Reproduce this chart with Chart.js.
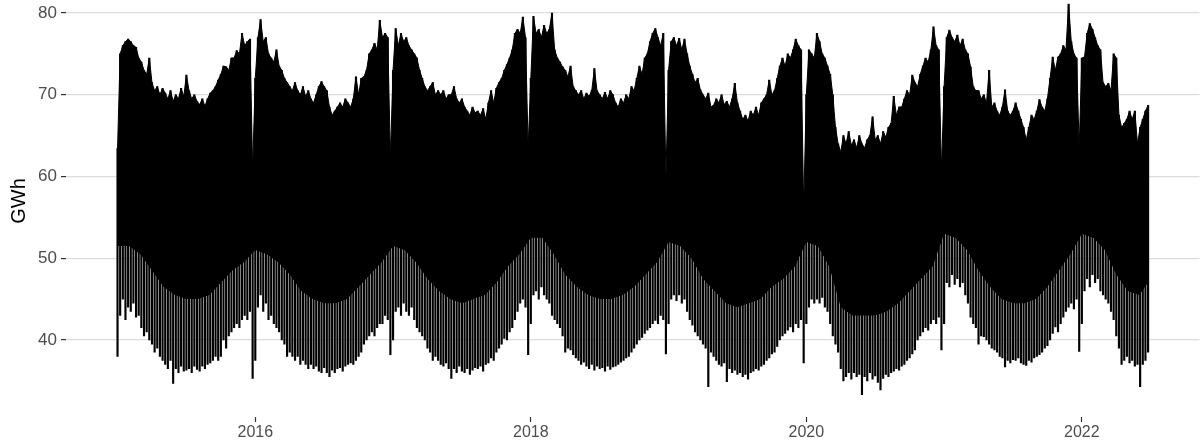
<!DOCTYPE html>
<html>
<head>
<meta charset="utf-8">
<script src="https://cdn.jsdelivr.net/npm/chart.js@4.4.1/dist/chart.umd.min.js"></script>
<style>
    html, body { margin: 0; padding: 0; background: #ffffff; }
    #contenedor { width: 1203px; height: 445px; }
</style>
</head>
<body>
<div id="contenedor"><canvas id="demandChart" width="1203" height="445"></canvas></div>
<script>
// Años de la serie (52 semanas por año, 2022 llega hasta finales de junio)
var years = [2015, 2016, 2017, 2018, 2019, 2020, 2021, 2022];

// Máximo semanal (GWh)
var high2015 = [63.4, 75, 76, 76.5, 76.8, 76.5, 76, 75.8, 74.5, 74, 73, 72.5, 74.5, 71.5, 70.5, 71, 70, 70.8, 70.2, 69.5, 70.5, 69.2, 70, 69.5, 70.8, 69.8, 72.4, 70.5, 69.5, 70, 69.2, 68.8, 69.5, 68.6, 69.5, 70.2, 70.5, 71, 71.8, 72.5, 73.5, 73.4, 73, 74.5, 74.5, 75.4, 75, 77.5, 76, 76.5, 76.8, 61];
var high2016 = [72, 77, 79.2, 76.5, 77, 75, 74.5, 74, 75.5, 73.5, 73, 72, 71.5, 71, 70.5, 71.5, 70.5, 70, 71, 69.8, 70.5, 69.5, 69, 70, 71, 71.6, 71, 70.5, 68.5, 67.5, 68, 68.5, 69, 68.5, 69.5, 69, 68.5, 69.5, 72.2, 70, 72, 72.2, 73, 75, 75.5, 76.3, 75.5, 79.1, 77, 77.5, 77, 62.4];
var high2017 = [73, 78.1, 76, 77.5, 76.5, 77, 76, 75.5, 75, 74.5, 73, 72, 71, 70.5, 71, 71.5, 70, 70.5, 70, 70.5, 69.5, 70, 70, 71, 69.5, 69, 69.5, 68.5, 68, 67.5, 68.5, 67.8, 68, 67.5, 68.3, 67, 69, 70.5, 69, 70.8, 71.5, 72, 73, 73.7, 74.5, 75.5, 77.5, 78, 77.5, 79.5, 77, 63.6];
var high2018 = [72, 79.6, 77.5, 78, 77, 78.5, 77.5, 78, 80, 75.5, 74.5, 74, 73.4, 73, 72.2, 73.5, 71, 70.5, 70, 70.5, 69.5, 70.2, 69.8, 70.5, 73.2, 70.5, 70, 69.5, 70.3, 69.5, 70.5, 70, 69, 68.5, 69.5, 69, 70, 69.5, 71, 70.5, 72, 73.5, 72.5, 74.5, 75, 76.5, 77.5, 78.1, 77, 76, 77.5, 60];
var high2019 = [73, 76.5, 77, 76, 76.9, 75.5, 76.8, 75, 73.5, 72.5, 71.5, 72, 70.6, 70, 69.5, 70.2, 68.5, 68.7, 69.5, 69, 70, 68.8, 69.2, 68.5, 69.5, 71.4, 69, 68, 67, 67.5, 66.8, 68, 67.5, 68.5, 67.5, 69, 69.5, 70, 71.8, 70, 70.5, 72, 73.5, 74.5, 73.5, 75, 74.5, 75.5, 76.8, 76, 75.5, 56.3];
var high2020 = [70, 75.5, 75, 74.5, 77.5, 76.5, 75, 74.5, 73.5, 72.5, 70, 66, 64, 63, 65, 64, 65.5, 63.8, 64.5, 63.5, 65, 64, 63.5, 64.5, 65, 67.3, 64.5, 65, 64, 65.5, 64.8, 66, 66.5, 69.8, 67.5, 68.5, 68.5, 69.5, 70.5, 70, 72.4, 71.5, 71, 72.5, 73.5, 74.5, 74, 75.5, 78.3, 76, 75.5, 60.8];
var high2021 = [71, 77, 77.9, 77, 76.5, 77.3, 76, 76.8, 75.5, 75, 73.4, 71, 70.5, 70.5, 69.5, 70, 69, 73, 68.5, 69, 68, 67.5, 68.5, 70.6, 68, 67.5, 68, 69, 68, 67, 66, 64.5, 66, 67.5, 67, 68, 69.4, 68.5, 68, 69.5, 72, 74.6, 73, 74.6, 75, 76, 75.5, 81.1, 76.5, 75, 74.5, 63.6];
var high2022 = [74.5, 74.6, 77.5, 78.7, 78, 77, 76, 75.5, 71.5, 71, 71.4, 70.5, 75, 74.5, 67.5, 66, 66.5, 67, 68, 67, 68, 64, 66, 67, 68, 68.7];

// Mínimo semanal (GWh), los picos hacia abajo de fines de semana y festivos
var low2015 = [38, 43, 45, 42.5, 44, 43.5, 44.5, 42.8, 43, 41.5, 40.5, 41, 40, 39.5, 38.5, 39, 38, 37.5, 37, 36.5, 37.5, 34.7, 36.5, 36, 36.8, 36.2, 36.3, 36.5, 36, 36.8, 36.4, 36.2, 36.8, 36.5, 37, 37.2, 37.5, 38, 37.5, 38, 40, 39, 40.5, 41, 41.5, 42, 41.5, 42.5, 43, 42.5, 43.5, 35.3];
var low2016 = [37.5, 44, 45.5, 43.5, 44.5, 42.5, 43, 42, 41.5, 41, 40, 39.5, 38, 38.5, 38, 37.5, 38, 37, 37.5, 37, 36.5, 37, 36.5, 36.8, 36.2, 36, 36.6, 36, 35.5, 36.3, 36, 36.5, 36.6, 36.2, 36.8, 37, 37.2, 37, 37.5, 38, 38.5, 39.5, 40, 40.5, 41, 40.5, 41.5, 42, 42, 43, 42.5, 38.2];
var low2017 = [40, 43.5, 44, 43, 44.5, 43.5, 43, 44, 42.5, 41.5, 41, 40.5, 40, 39, 38.5, 37.5, 38, 37.5, 37, 36.8, 37.2, 36.5, 35.3, 36.5, 36, 36.8, 36.2, 36, 36.5, 35.8, 36.3, 36.6, 36.5, 36.8, 36.2, 37, 37.2, 37.8, 37.5, 38.5, 39, 39.5, 40.2, 40, 41, 41.5, 42.5, 43.5, 44.5, 45, 44, 38.2];
var low2018 = [42, 45.5, 46, 45, 46.5, 45.5, 45, 44.5, 43, 42.5, 42, 41.5, 40.5, 38.5, 39, 38.8, 38.2, 37.8, 37.5, 37, 37.3, 36.8, 36.5, 37, 36.3, 36.8, 36.5, 36.6, 36.2, 36.8, 36.4, 36.7, 36.8, 37, 37.3, 37.5, 37.8, 38, 38.5, 39, 39.5, 40, 40.3, 40.8, 41.2, 41.5, 42, 42.4, 42, 43, 42.5, 38.3];
var low2019 = [42, 45, 45.5, 44.8, 45.5, 44.5, 45, 43.5, 42.5, 41.8, 41, 40.5, 40, 39.5, 39, 34.3, 38.5, 38, 37.5, 37, 36.8, 37.2, 34.9, 36.5, 36, 36.3, 35.8, 36, 35.5, 35.8, 35.2, 36, 36.2, 36.5, 36.3, 36.8, 37, 37.5, 37.8, 38.3, 38.5, 39.2, 40, 40.5, 40.8, 41.2, 41.6, 41, 42, 41.5, 42.5, 37.2];
var low2020 = [42, 44, 45, 44.5, 45, 44.5, 45.2, 44, 43.5, 42, 40.5, 39.5, 38.5, 36.5, 35, 35.5, 36, 35.2, 36, 35.5, 35.8, 33.3, 35.5, 35, 36, 35.2, 35.6, 34.8, 33.9, 35.3, 35.8, 35.5, 36, 36.2, 36.5, 36.3, 36.8, 37, 37.5, 37.8, 38.3, 38.8, 40, 40.5, 41, 41.5, 41.2, 42, 42.5, 42, 42.8, 38.8];
var low2021 = [42, 47, 46.5, 48, 46.8, 47.5, 46.5, 47, 45.5, 44.5, 42.8, 42, 41.5, 39.5, 40.5, 40.4, 40, 39.5, 39, 38.8, 38.5, 38, 37.8, 36.7, 37.5, 37.2, 37.6, 37.5, 37.8, 37.2, 37, 36.9, 37.5, 37.3, 37.8, 38, 38.2, 38.5, 39, 39.3, 40, 40.8, 41.6, 41, 42, 42.8, 43.5, 44, 44.5, 43.8, 45, 38.6];
var low2022 = [42, 46, 47.5, 46.5, 48, 47, 47.5, 46, 45.5, 45, 44.5, 43.5, 42.5, 40.5, 39, 37, 37.5, 38, 37.2, 37.5, 36.8, 37, 34.3, 37, 37.5, 38.5];

// Borde inferior de la zona negra compacta, al comienzo de cada mes (GWh)
var body2015 = [51.5, 51.5, 50.5, 48.5, 46.5, 45.5, 45, 45, 45.5, 47, 48.5, 49.5];
var body2016 = [51, 50.5, 49.5, 48, 46, 45, 44.5, 44.5, 45, 46.5, 48, 49.5];
var body2017 = [51.5, 51, 49.5, 47.5, 46, 45, 44.5, 45, 45.5, 47, 49, 50.5];
var body2018 = [52.5, 52.5, 50.5, 48, 46.5, 45.5, 45, 45, 45.5, 46.5, 48, 49.5];
var body2019 = [52, 51.5, 50, 47.5, 46, 44.5, 44, 44.5, 45, 46.5, 47.5, 49];
var body2020 = [52, 51.5, 49, 44, 43, 43, 43, 43.5, 44.5, 46, 47.5, 49];
var body2021 = [53, 52.5, 51, 48.5, 46.5, 45, 44.5, 44.5, 45, 46.5, 48.5, 50.5];
var body2022 = [53, 52.5, 51, 48, 46, 45.5, 47.5];

// Marcas de los ejes
var yTicks = [40, 50, 60, 70, 80];
var xTicks = [2016, 2018, 2020, 2022];

var highs = [high2015, high2016, high2017, high2018, high2019, high2020, high2021, high2022];
var lows = [low2015, low2016, low2017, low2018, low2019, low2020, low2021, low2022];
var bodies = [body2015, body2016, body2017, body2018, body2019, body2020, body2021, body2022];

// Construimos los puntos: cada semana en su fracción de año
var highPoints = [];
var spikeBars = [];
var bodyPoints = [];
years.forEach(function (year, n) {
    highs[n].forEach(function (value, k) {
        var x = year + k / 52;
        highPoints.push({ x: x, y: value });
        spikeBars.push({ x: x, y: [lows[n][k], value] });
    });
    bodies[n].forEach(function (value, m) {
        bodyPoints.push({ x: year + m / 12, y: value });
    });
});

var fontFamily = "'Liberation Sans', Arial, sans-serif";

// Título del eje Y, girado y centrado sobre el panel
var yTitlePlugin = {
    id: 'yTitle',
    afterDraw: function (chart) {
        var ctx = chart.ctx;
        ctx.save();
        ctx.translate(19, 201);
        ctx.rotate(-Math.PI / 2);
        ctx.font = '20px ' + fontFamily;
        ctx.fillStyle = '#000000';
        ctx.textAlign = 'center';
        ctx.textBaseline = 'middle';
        ctx.fillText('GWh', 0, 0);
        ctx.restore();
    }
};

var grafico = document.getElementById('demandChart').getContext('2d');
var chartInstance = new Chart(grafico, {
    type: 'line',
    data: {
        datasets: [{
            // máximo semanal, relleno hasta el borde de la zona compacta
            data: highPoints,
            borderColor: '#000000',
            backgroundColor: '#000000',
            borderWidth: 1,
            pointRadius: 0,
            tension: 0,
            fill: 1
        }, {
            data: bodyPoints,
            borderColor: 'rgba(0,0,0,0)',
            borderWidth: 1,
            pointRadius: 0,
            tension: 0,
            fill: false
        }, {
            // picos hacia abajo de cada semana
            type: 'bar',
            data: spikeBars,
            backgroundColor: '#000000',
            barThickness: 1.5,
            grouped: false
        }]
    },
    options: {
        responsive: false,
        animation: false,
        devicePixelRatio: 1,
        layout: { padding: { left: 0, right: 3.5, top: 0, bottom: 0 } },
        plugins: {
            legend: { display: false },
            tooltip: { enabled: false }
        },
        scales: {
            x: {
                type: 'linear',
                min: 2014.626,
                max: 2022.854,
                offset: false,
                afterBuildTicks: function (scale) {
                    scale.ticks = xTicks.map(function (v) { return { value: v }; });
                },
                afterFit: function (scale) {
                    scale.height = 28;
                    scale.paddingLeft = 0;
                    scale.paddingRight = 0;
                },
                grid: {
                    offset: false,
                    drawOnChartArea: false,
                    drawTicks: true,
                    tickLength: 5,
                    tickColor: '#333333',
                    tickWidth: 1.2
                },
                border: { display: false },
                ticks: {
                    color: '#4d4d4d',
                    font: { family: fontFamily, size: 16 },
                    padding: 1,
                    maxRotation: 0,
                    callback: function (v) { return String(v); }
                }
            },
            y: {
                min: 30.58,
                max: 81.59,
                afterBuildTicks: function (scale) {
                    scale.ticks = yTicks.map(function (v) { return { value: v }; });
                },
                afterFit: function (scale) {
                    scale.width = 66;
                    scale.paddingTop = 0;
                    scale.paddingBottom = 0;
                },
                grid: {
                    color: '#dcdcdc',
                    lineWidth: 1.2,
                    tickLength: 5,
                    tickColor: '#333333',
                    tickWidth: 1.2
                },
                border: { display: false },
                ticks: {
                    color: '#4d4d4d',
                    font: { family: fontFamily, size: 17 },
                    padding: 4,
                    callback: function (v) { return String(v); }
                }
            }
        }
    },
    plugins: [yTitlePlugin]
});
</script>
</body>
</html>
